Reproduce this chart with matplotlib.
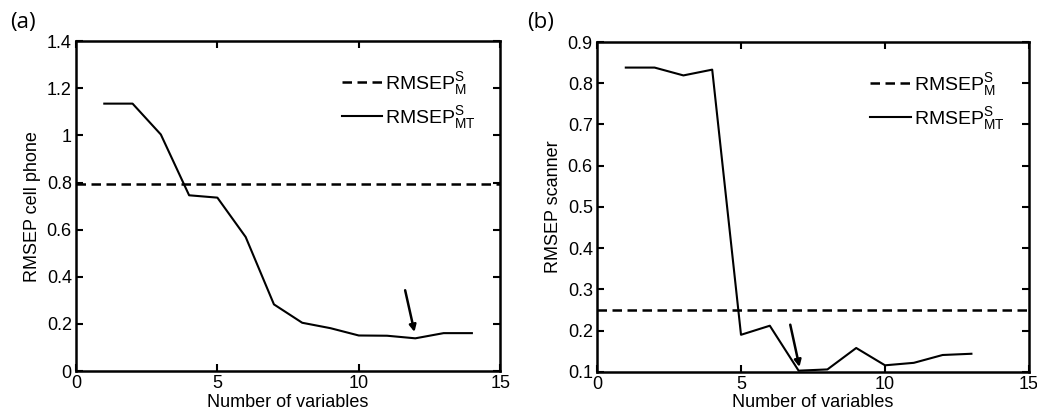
import matplotlib
matplotlib.use("Agg")
import matplotlib.pyplot as plt
import matplotlib.ticker as mticker

plt.rcParams["font.family"] = "Liberation Sans"
plt.rcParams["mathtext.fontset"] = "custom"
plt.rcParams["mathtext.rm"] = "Liberation Sans"
plt.rcParams["mathtext.it"] = "Liberation Sans"

# panel (a): cell phone
n_vars_a = [1, 2, 3, 4, 5, 6, 7, 8, 9, 10, 11, 12, 13, 14]
rmsep_mt_a = [1.135, 1.135, 1.004, 0.746, 0.736, 0.569, 0.283, 0.205, 0.182,
              0.151, 0.150, 0.139, 0.161, 0.161]
rmsep_m_a = 0.795
arrow_a = ((11.64, 0.343), (11.97, 0.166))

# panel (b): scanner
n_vars_b = [1, 2, 3, 4, 5, 6, 7, 8, 9, 10, 11, 12, 13]
rmsep_mt_b = [0.838, 0.838, 0.819, 0.833, 0.190, 0.212, 0.103, 0.106, 0.158,
              0.116, 0.122, 0.141, 0.144]
rmsep_m_b = 0.25
arrow_b = ((6.71, 0.2145), (7.03, 0.112))

FS = 13

fig = plt.figure(figsize=(10.37, 4.16), dpi=100)
ax_a = fig.add_axes([0.0733, 0.108, 0.409, 0.793])
ax_b = fig.add_axes([0.5757, 0.106, 0.4166, 0.793])


def style_axis(ax, xs, ys, mline, arrow, ylim, yticks, ylabel):
    ax.axhline(mline, color="black", linestyle=(0, (3.8, 2.2)), linewidth=1.8,
               label=r"RMSEP$^{\rm S}_{\rm M}$")
    ax.plot(xs, ys, color="black", linewidth=1.5,
            label=r"RMSEP$^{\rm S}_{\rm MT}$")
    ax.annotate("", xy=arrow[1], xytext=arrow[0],
                arrowprops=dict(arrowstyle="-|>", color="black", lw=1.8,
                                mutation_scale=10, shrinkA=0, shrinkB=0))
    ax.set_xlim(0, 15)
    ax.set_ylim(*ylim)
    ax.set_xticks([0, 5, 10, 15])
    ax.set_yticks(yticks)
    ax.yaxis.set_major_formatter(mticker.FormatStrFormatter("%g"))
    ax.tick_params(direction="in", top=True, right=True, length=5, width=1.5,
                   labelsize=FS, pad=3)
    for s in ax.spines.values():
        s.set_linewidth(1.8)
    ax.set_xlabel("Number of variables", fontsize=FS, labelpad=1)
    ax.set_ylabel(ylabel, fontsize=FS, labelpad=4)
    leg = ax.legend(loc="upper right", bbox_to_anchor=(0.985, 0.965),
                    frameon=False, fontsize=FS + 1, handlelength=2.1,
                    handletextpad=0.15, labelspacing=0.35)
    return leg


style_axis(ax_a, n_vars_a, rmsep_mt_a, rmsep_m_a, arrow_a, (0, 1.4),
           [0, 0.2, 0.4, 0.6, 0.8, 1.0, 1.2, 1.4], "RMSEP cell phone")
style_axis(ax_b, n_vars_b, rmsep_mt_b, rmsep_m_b, arrow_b, (0.1, 0.9),
           [0.1, 0.2, 0.3, 0.4, 0.5, 0.6, 0.7, 0.8, 0.9], "RMSEP scanner")

fig.text(0.010, 0.945, "(a)", fontsize=16, family="Open Sans", va="center")
fig.text(0.508, 0.945, "(b)", fontsize=16, family="Open Sans", va="center")

fig.savefig("out.png", dpi=100)
